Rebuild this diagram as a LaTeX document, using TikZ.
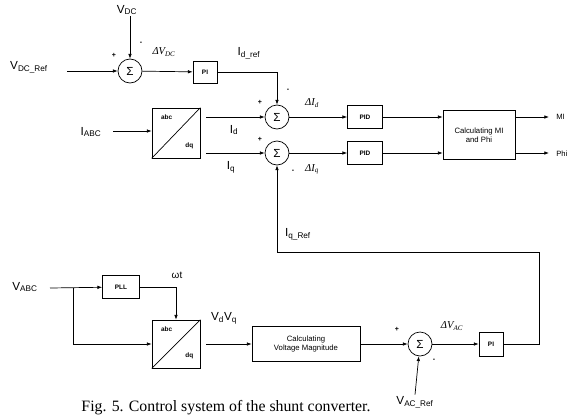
\documentclass[tikz,border=0pt]{standalone}
\usepackage{fontspec}
\setmainfont{Liberation Sans}
\newfontfamily\capfont{Liberation Serif}
\usetikzlibrary{arrows.meta,positioning,calc}

\begin{document}
\begin{tikzpicture}[
    x=0.03cm, y=-0.03cm,
    >={Latex[length=4pt,width=3pt]},
    line width=0.6pt,
    blk/.style={draw, font=\fontsize{5.5}{6}\selectfont\bfseries, inner sep=0pt},
    calcblk/.style={draw, font=\fontsize{6.6}{7.6}\selectfont, align=center, inner sep=0pt},
    sumnode/.style={draw, circle, minimum size=0.72cm, inner sep=0pt, font=\fontsize{10}{11}\selectfont},
    lbl/.style={font=\fontsize{10}{11}\selectfont, inner sep=1pt},
    dlbl/.style={font=\capfont\itshape\fontsize{9}{10}\selectfont, inner sep=1pt},
    sgn/.style={font=\fontsize{6}{7}\selectfont\bfseries, inner sep=0pt},
    outlbl/.style={font=\fontsize{6.5}{7}\selectfont, inner sep=0pt, anchor=west},
  ]
  \useasboundingbox (0,0) rectangle (571,416);

  % ---------- DC voltage loop ----------
  \node[lbl] (vdc) at (127,10) {V\textsubscript{DC}};
  \node[lbl] (vdcref) at (29,67) {V\textsubscript{DC\_Ref}};
  \node[sumnode] (sum1) at (130,71) {Σ};
  \node[blk, minimum width=0.72cm, minimum height=0.66cm] (pi1) at (205,72) {PI};
  \coordinate (vdcin) at (67,71);

  \draw[->] (vdc.south -| sum1) -- (sum1);
  \draw[->] (vdcin) -- (sum1);
  \draw[->] (sum1) -- (pi1);
  \node[sgn] at (141,43) {-};
  \node[sgn] at (114,55) {+};
  \node[dlbl] at (164,52) {ΔV\textsubscript{DC}};

  % ---------- current loops ----------
  \node[sumnode] (sum2) at (277,117) {Σ};
  \node[sumnode] (sum3) at (277,153) {Σ};
  \node[lbl] (iabc) at (91,132) {I\textsubscript{ABC}};
  \coordinate (iabcin) at (113,131);
  \node[draw, minimum width=1.44cm, minimum height=1.5cm] (dq1) at (176,133) {};
  \draw (dq1.south west) -- (dq1.north east);
  \node[blk, draw=none] at ($(dq1.north west)+(15,10)$) {abc};
  \node[blk, draw=none] at ($(dq1.south east)+(-11,-13)$) {dq};

  \draw[->] (pi1) -| (sum2);
  \node[lbl] at (249,53) {I\textsubscript{d\_ref}};
  \draw[->] (iabcin) -- (iabcin -| dq1.west);
  \draw[->] ([xshift=5pt]dq1.east |- sum2) -- (sum2);
  \draw[->] ([xshift=5pt]dq1.east |- sum3) -- (sum3);
  \node[lbl] at (234,130) {I\textsubscript{d}};
  \node[lbl] at (231,167) {I\textsubscript{q}};
  \node[sgn] at (288,90) {-};
  \node[sgn] at (260,102) {+};
  \node[sgn] at (260,139) {+};
  \node[sgn] at (293,171) {-};
  \node[dlbl] at (312,103) {ΔI\textsubscript{d}};
  \node[dlbl] at (312,169) {ΔI\textsubscript{q}};

  \node[blk, minimum width=1.05cm, minimum height=0.69cm] (pid1) at (365,117) {PID};
  \node[blk, minimum width=1.05cm, minimum height=0.69cm] (pid2) at (365,153) {PID};
  \node[calcblk, minimum width=2.16cm, minimum height=1.47cm] (calc) at (479,135) {Calculating MI\\and Phi};
  \draw[->] (sum2) -- (pid1);
  \draw[->] (sum3) -- (pid2);
  \draw[->] (pid1) -- (pid1 -| calc.west);
  \draw[->] (pid2) -- (pid2 -| calc.west);

  \coordinate (miout) at (549,117);
  \coordinate (phiout) at (549,153);
  \draw[->] (calc.east |- miout) -- (miout);
  \draw[->] (calc.east |- phiout) -- (phiout);
  \node[outlbl] (mi) at (556,117) {MI};
  \node[outlbl] (phi) at (556,154) {Phi};

  % ---------- AC voltage loop ----------
  \node[lbl] (vabc) at (25,287) {V\textsubscript{ABC}};
  \coordinate (vabcin) at (50,288);
  \coordinate (br) at (73,288);
  \node[blk, minimum width=1.11cm, minimum height=0.69cm] (pll) at (121,287) {PLL};
  \node[draw, minimum width=1.44cm, minimum height=1.44cm] (dq2) at (176,344) {};
  \draw (dq2.south west) -- (dq2.north east);
  \node[blk, draw=none] at ($(dq2.north west)+(15,10)$) {abc};
  \node[blk, draw=none] at ($(dq2.south east)+(-11,-13)$) {dq};
  \node[calcblk, minimum width=3.24cm, minimum height=1.05cm] (vmag) at (306,344) {Calculating\\Voltage Magnitude};
  \node[sumnode] (sum4) at (420,344) {Σ};
  \node[blk, minimum width=0.72cm, minimum height=0.72cm] (pi2) at (491,344) {PI};
  \node[lbl] (vacref) at (415,402) {V\textsubscript{AC\_Ref}};

  \draw[->] (vabcin) -- (pll);
  \draw[->] (br) |- (dq2.west);
  \draw[->] (pll) -| (dq2.north);
  \node[font=\fontsize{8.5}{9}\selectfont] at (177,275) {ωt};
  \node[lbl] at (224,318) {V\textsubscript{d}V\textsubscript{q}};
  \draw[->] ([xshift=5pt]dq2.east) -- (vmag);
  \draw[->] (vmag) -- (sum4);
  \draw[->] (sum4) -- (pi2);
  \draw[->] (vacref.north) -- (sum4);
  \node[sgn] at (397,329) {+};
  \node[sgn] at (434,360) {-};
  \node[dlbl] at (452,326) {ΔV\textsubscript{AC}};

  % feedback to q-axis
  \coordinate (fb) at (539,252);
  \draw[->] (pi2.east) -| (fb) -| (sum3.south);
  \node[lbl] at (298,234) {I\textsubscript{q\_Ref}};

  % caption
  \node[font=\capfont\fontsize{13.5}{15}\selectfont, anchor=base] (cap) at (226,411) {Fig. 5. Control system of the shunt converter.};
\end{tikzpicture}
\end{document}
